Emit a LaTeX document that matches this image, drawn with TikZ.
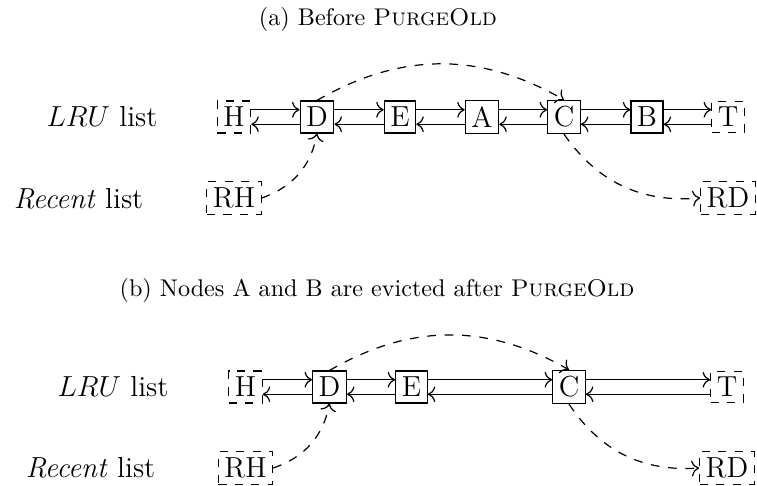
\documentclass[tikz,border=0pt]{standalone}
\usetikzlibrary{arrows.meta}
\begin{document}
\begin{tikzpicture}[x=0.4139pt,y=-0.4139pt,
  line width=0.5pt,
  >={To[scale=1.15]},
  nd/.style={draw, inner sep=2.5pt, font=\large},
  sent/.style={draw, dash pattern=on 3.4pt off 3.4pt, inner sep=2.5pt, font=\large},
  lbl/.style={font=\large},
  ttl/.style={font=\normalsize},
  ptr/.style={->},
  dptr/.style={->, dash pattern=on 3.6pt off 3.6pt}]
\useasboundingbox (0,0) rectangle (757,486);
% ---------- (a) ----------
\node[ttl] (ta) at (378,19) {(a) Before \textsc{PurgeOld}};
\node[lbl] (lruA) at (102,117) {$LRU$ list};
\node[lbl] (recA) at (78.5,199) {\textit{Recent} list};
\node[sent] (Ha) at (234,117) {H};
\node[nd] (Da) at (317,117) {D};
\node[nd] (Ea) at (400,117) {E};
\node[nd] (Aa) at (482,117) {A};
\node[nd] (Ca) at (564,117) {C};
\node[nd] (Ba) at (647,117) {B};
\node[sent] (Ta) at (728,117) {T};
\node[sent] (RHa) at (234,198) {RH};
\node[sent] (RDa) at (728,198) {RD};
\foreach \a/\b in {Ha/Da,Da/Ea,Ea/Aa,Aa/Ca,Ca/Ba,Ba/Ta}{
  \draw[ptr] ([yshift=3pt]\a.east) -- ([yshift=3pt]\b.west);
  \draw[ptr] ([yshift=-3pt]\b.west) -- ([yshift=-3pt]\a.east);
}
\draw[dptr] (Da.north) to[bend left=30] (Ca.north);
\draw[dptr] (RHa.east) to[bend right=30] (Da.south);
\draw[dptr] (Ca.south) to[bend right=30] (RDa.west);
% ---------- (b) ----------
\node[ttl] (tb) at (377,290) {(b) Nodes A and B are evicted after \textsc{PurgeOld}};
\node[lbl] (lruB) at (113,387) {$LRU$ list};
\node[lbl] (recB) at (90.5,468) {\textit{Recent} list};
\node[sent] (Hb) at (245.5,387) {H};
\node[nd] (Db) at (329.5,387) {D};
\node[nd] (Eb) at (411.5,387) {E};
\node[nd] (Cb) at (569,387) {C};
\node[sent] (Tb) at (727,387) {T};
\node[sent] (RHb) at (245.5,468) {RH};
\node[sent] (RDb) at (727,468) {RD};
\foreach \a/\b in {Hb/Db,Db/Eb,Eb/Cb,Cb/Tb}{
  \draw[ptr] ([yshift=3pt]\a.east) -- ([yshift=3pt]\b.west);
  \draw[ptr] ([yshift=-3pt]\b.west) -- ([yshift=-3pt]\a.east);
}
\draw[dptr] (Db.north) to[bend left=30] (Cb.north);
\draw[dptr] (RHb.east) to[bend right=30] (Db.south);
\draw[dptr] (Cb.south) to[bend right=30] (RDb.west);
\end{tikzpicture}
\end{document}
